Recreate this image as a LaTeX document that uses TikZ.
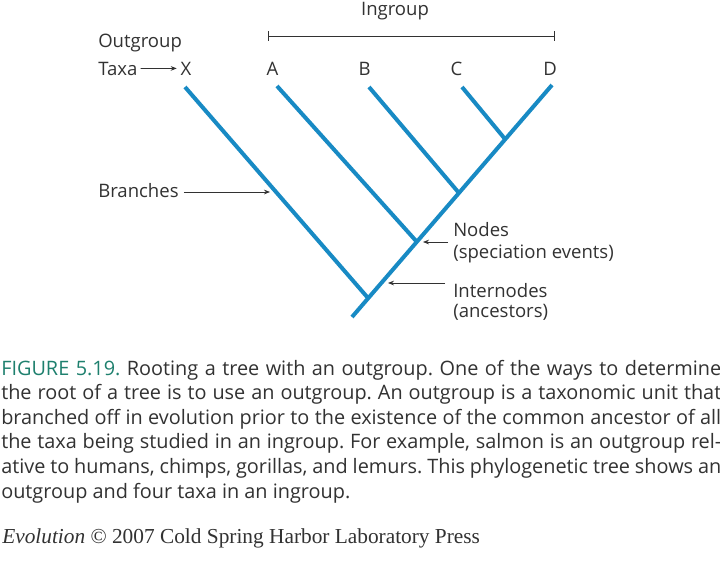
\documentclass[tikz,border=0pt]{standalone}
\usepackage{fontspec}
\setmainfont{Open Sans}
\newfontfamily\credfont{Liberation Serif}
\usepackage{xcolor}
\usetikzlibrary{arrows.meta}

\definecolor{treeblue}{RGB}{24,138,196}
\definecolor{figteal}{RGB}{30,128,110}
\definecolor{inkgray}{RGB}{50,50,50}

\tikzset{
  branch/.style={treeblue, line width=3pt},
  pointer/.style={inkgray, line width=0.6pt, -{Stealth[length=4.5pt,width=3.5pt]}},
  lbl/.style={anchor=base west, inner sep=0.75pt, text=inkgray, font=\fontsize{13.9}{16}\selectfont},
  capline/.style={anchor=base west, inner sep=0pt, text=inkgray, font=\fontsize{14.9}{17}\selectfont},
}
\newcommand{\justline}[1]{\makebox[540pt][s]{#1}}
\frenchspacing

\begin{document}
\begin{tikzpicture}[x=0.75pt,y=0.75pt,yscale=-1,xscale=1]
\useasboundingbox (0,0) rectangle (720,562);
\fill[white] (0,0) rectangle (720,562);

\coordinate (root) at (352,317);
\coordinate (tX) at (185,87);
\coordinate (tA) at (277,86);
\coordinate (tB) at (369,87);
\coordinate (tC) at (462,87);
\coordinate (tD) at (552,85);
\coordinate (jX) at (368,298);
\coordinate (jA) at (417,242);
\coordinate (jB) at (459,193);
\coordinate (jCD) at (505,139);

\draw [branch] (root) -- (tD) ;
\draw [branch] (tX) -- (jX) ;
\draw [branch] (tA) -- (jA) ;
\draw [branch] (tB) -- (jB) ;
\draw [branch] (tC) -- (jCD) ;

\node [lbl, anchor=base] (lX) at (186,75) {X};
\node [lbl, anchor=base] (lA) at (272.5,75) {A};
\node [lbl, anchor=base] (lB) at (364.5,75) {B};
\node [lbl, anchor=base] (lC) at (456.5,75) {C};
\node [lbl, anchor=base] (lD) at (550,75) {D};

\node [lbl, anchor=base] (ingrp) at (395,15) {Ingroup};
\coordinate (gL) at (268,36);
\coordinate (gR) at (555,36);
\draw [inkgray, line width=0.6pt, {Bar[width=7pt]}-{Bar[width=7pt]}] (gL) -- (gR) ;

\node [lbl] (outgrp) at (97,47) {Outgroup};
\node [lbl] (taxa) at (97,75) {Taxa};
\draw [pointer, shorten <=1.5pt, shorten >=2pt] (taxa) -- (lX) ;

\node [lbl] (branches) at (97,197) {Branches};
\coordinate (pBr) at (276,192);
\draw [pointer, shorten <=3pt, shorten >=4.5pt] (branches.east |- pBr) -- (pBr) ;

\node [lbl] (nodesl) at (452,236) {Nodes};
\node [lbl] (specl) at (452,258) {(speciation events)};
\draw [pointer, shorten <=3pt, shorten >=4.5pt] (nodesl.west |- jA) -- (jA) ;

\node [lbl] (internl) at (452,297) {Internodes};
\node [lbl] (ancl) at (452,317) {(ancestors)};
\coordinate (pIn) at (381,283);
\draw [pointer, shorten <=5.25pt, shorten >=5.25pt] (internl.west |- pIn) -- (pIn) ;

\node [capline] (cap1) at (1,375) {\justline{\textcolor{figteal}{FIGURE 5.19.} Rooting a tree with an outgroup. One of the ways to determine}};
\node [capline] (cap2) at (1,399.6) {\justline{the root of a tree is to use an outgroup. An outgroup is a taxonomic unit that}};
\node [capline] (cap3) at (1,424.2) {\justline{branched off in evolution prior to the existence of the common ancestor of all}};
\node [capline] (cap4) at (1,448.8) {\justline{the taxa being studied in an ingroup. For example, salmon is an outgroup rel-}};
\node [capline] (cap5) at (1,473.4) {\justline{ative to humans, chimps, gorillas, and lemurs. This phylogenetic tree shows an}};
\node [capline] (cap6) at (1,498) {outgroup and four taxa in an ingroup.};

\node [capline, font=\credfont\fontsize{16}{18}\selectfont] (cred) at (2,543) {\textit{Evolution} © 2007 Cold Spring Harbor Laboratory Press};

\end{tikzpicture}
\end{document}
